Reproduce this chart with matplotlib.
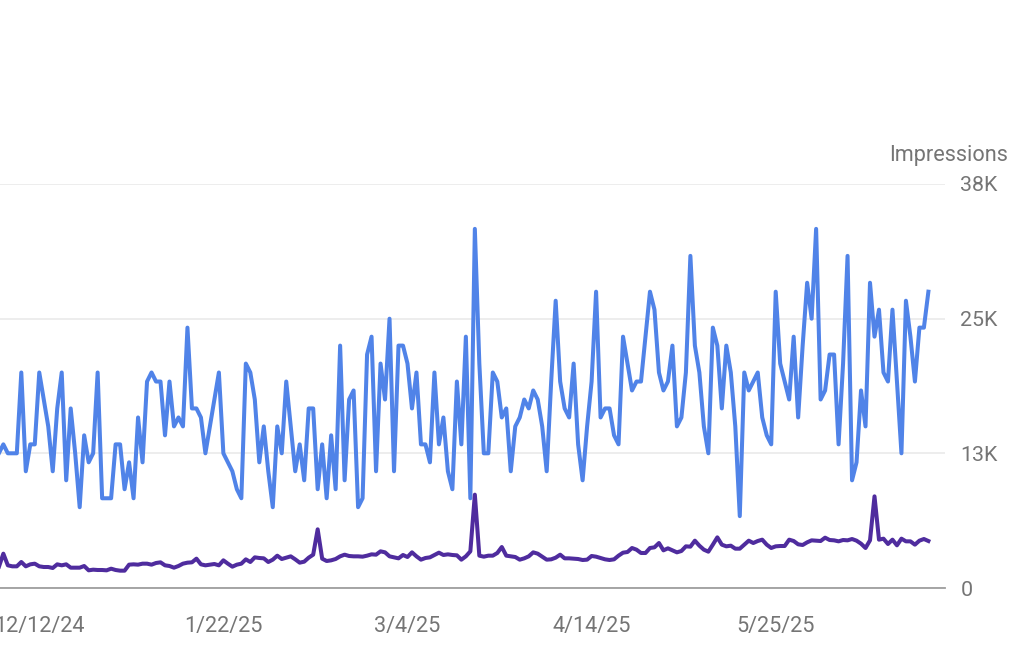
import matplotlib
matplotlib.use("Agg")
import matplotlib.pyplot as plt
import numpy as np
import pandas as pd

plt.rcParams['font.family'] = ['Roboto', 'DejaVu Sans']

# daily impressions, first shown day is 12/3/24
blue_values = [
    12670, 13510, 12670, 12670, 12670, 20270, 10980, 13510, 13510, 20270,
    17730, 15200, 10980, 16890, 20270, 10130, 16890, 12670, 7600, 14360,
    11820, 12670, 20270, 8440, 8440, 8440, 13510, 13510, 9290, 11820,
    8440, 16040, 11820, 19420, 20270, 19420, 19420, 14360, 19420, 15200,
    16040, 15200, 24490, 16890, 16890, 16040, 12670, 15200, 17730, 20270,
    12670, 11820, 10980, 9290, 8440, 21110, 20270, 17730, 11820, 15200,
    10980, 7600, 15200, 12670, 19420, 15200, 10980, 13510, 10130, 16890,
    16890, 9290, 13510, 8440,
    14360, 9290, 22800, 10130, 17730, 18580, 7600, 8440, 21960, 23640,
    10980, 21110, 17730, 25330, 10980, 22800, 22800, 21110, 16890, 20270,
    13510, 13510, 11820, 20270, 13510, 16040, 10980, 9290, 19420, 13510,
    23640, 8440, 33780, 21110, 12670, 12670, 20270, 19420, 16040, 16890,
    10980, 15200, 16040, 17730, 16890, 18580, 17730, 15200, 10980, 19420,
    27020, 19420, 16890, 16040, 21110, 13510, 10130, 15200, 19420, 27870,
    16040, 16890, 16890, 14360, 13510, 23640, 21110, 18580, 19420, 19420,
    23640, 27870, 26180, 20270, 18580, 19420, 22800, 15200, 16040, 20270,
    31240, 22800, 20270, 15200, 12670, 24490, 22800, 16890, 22800, 20270,
    15200, 6760, 20270, 18580, 19420, 20270, 16040, 14360, 13510, 27870,
    21110, 19420, 17730, 23640, 16040, 22800, 28710, 25330, 33780, 17730,
    18580, 21960, 21960, 13510, 21110, 31240, 10130, 11820, 18580, 15200,
    28710, 23640, 26180, 20270, 19420, 26180, 19420, 12670, 27020, 23640,
    19420, 24490, 24490, 27870,
]
purple_values = [
    1975, 3229, 2132, 2038, 2038, 2445, 2038, 2226, 2289, 2038,
    1975, 1975, 1881, 2226, 2132, 2226, 1912, 1912, 1912, 2069,
    1662, 1724, 1693, 1693, 1662, 1818, 1693, 1630, 1630, 2195,
    2226, 2195, 2289, 2289, 2195, 2351, 2414, 2132, 2069, 1912,
    2069, 2289, 2383, 2414, 2759, 2226, 2132, 2195, 2257, 2132,
    2602, 2289, 2006, 2195, 2289, 2696, 2445, 2884, 2822, 2790,
    2445, 2665, 3041, 2727, 2853, 2978, 2696, 2383, 2477, 2853,
    3135, 5518, 2759, 2539,
    2602, 2727, 2978, 3135, 3010, 2978, 2978, 2947, 3041, 3166,
    3135, 3449, 3354, 2978, 2884, 2790, 3104, 2916, 3354, 2978,
    2665, 2822, 2884, 3104, 3323, 3104, 3166, 3104, 3072, 2665,
    2978, 3449, 8778, 3041, 2947, 3041, 3041, 3292, 3856, 3041,
    2978, 2916, 2665, 2790, 2978, 3354, 3229, 2947, 2665, 2696,
    2853, 3135, 2790, 2790, 2759, 2727, 2633, 2665, 3010, 2947,
    2822, 2696, 2633, 2696, 3041, 3323, 3386, 3762, 3605, 3292,
    3292, 3762, 3825, 4232, 3543, 3731, 3543, 3354, 3480, 3919,
    3887, 4452, 3981, 3605, 3417, 4076, 4765, 4076, 3919, 3981,
    3699, 3699, 4076, 4452, 4232, 4420, 4546, 4076, 3762, 3919,
    3950, 3950, 4546, 4420, 4107, 4044, 4295, 4483, 4452, 4420,
    4734, 4514, 4483, 4389, 4514, 4483, 4608, 4452, 4170, 3762,
    4483, 8621, 4546, 4640, 4138, 4546, 4013, 4640, 4389, 4389,
    4076, 4452, 4608, 4420,
]
tick_dates = ["2024-12-12", "2025-01-22", "2025-03-04", "2025-04-14", "2025-05-25"]
y_ticks = [0, 12667, 25333, 38000]
y_labels = ["0", "13K", "25K", "38K"]

dates = pd.date_range("2024-12-03", periods=len(blue_values))
x = np.arange(len(blue_values))

fig = plt.figure(figsize=(10.24, 6.69), dpi=100)
ax = fig.add_axes([0, (669 - 588) / 669, 945 / 1024, 404 / 669])

ax.plot(x, blue_values, color="#5083e8", lw=2.9, solid_joinstyle="round", zorder=3)
ax.plot(x, purple_values, color="#4f2c9e", lw=2.9, solid_joinstyle="round", zorder=4)

ax.set_xlim(0.256, 210.7)
ax.set_ylim(0, 38000)

# remove extraneous lines
for side in ("left", "right", "top"):
    ax.spines[side].set_visible(False)
ax.spines["bottom"].set_color("#9e9e9e")
ax.spines["bottom"].set_linewidth(1.3)

ax.yaxis.tick_right()
ax.set_yticks(y_ticks)
ax.set_yticklabels(y_labels)
ax.grid(axis="y", color="#ededed", lw=1.4, zorder=0)
ax.tick_params(axis="y", length=0, pad=11, labelsize=15.4, labelcolor="#757575")

ax.set_xticks([dates.get_loc(pd.Timestamp(d)) for d in tick_dates])
ax.set_xticklabels([f"{pd.Timestamp(d).month}/{pd.Timestamp(d).day}/{pd.Timestamp(d):%y}"
                    for d in tick_dates])
ax.tick_params(axis="x", length=0, pad=20.5, labelsize=15.6, labelcolor="#757575")

fig.text(1008 / 1024, (669 - 155.5) / 669, "Impressions", ha="right", va="center",
         fontsize=15.6, color="#757575")

fig.savefig("out.png", dpi=100)
